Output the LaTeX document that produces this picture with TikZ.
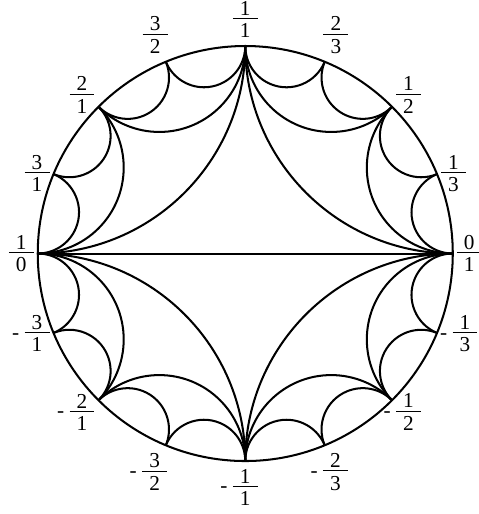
\documentclass[tikz,border=0pt]{standalone}
\usepackage{fontspec}
\setmainfont{Liberation Serif}
\usetikzlibrary{calc}
\newcommand{\fr}[2]{$\vcenter{\hbox to 12.3pt{\hss#1\hss}\kern1.5pt\hrule height 0.5pt\kern2.2pt\hbox to 12.3pt{\hss#2\hss}}$}
\newcommand{\negmark}{\llap{-\ }}
\def\diskR{3.6}

\begin{document}
\begin{tikzpicture}[line width=1pt, line join=round,
    font=\fontsize{10.5}{12.5}\selectfont,
    lbl/.style={inner xsep=1.5pt, inner ysep=3.5pt}]
  \useasboundingbox (-4.255,-4.519) rectangle (4.038,4.398);
  \coordinate (o) at (0,0);
  \foreach \k in {0,...,15}
    \coordinate (p\k) at (\k*22.5:\diskR);
  \draw (o) circle[radius=\diskR];
  \draw (p8) -- (p0);
  \foreach \a/\b in {0/4,4/8,8/12,12/16,
                     0/2,2/4,4/6,6/8,8/10,10/12,12/14,14/16,
                     0/1,1/2,2/3,3/4,4/5,5/6,6/7,7/8,
                     8/9,9/10,10/11,11/12,12/13,13/14,14/15,15/16} {
    \pgfmathsetmacro\m{(\a+\b)*11.25}
    \pgfmathsetmacro\d{(\b-\a)*22.5}
    \draw (p\a) arc[start angle=\m+270-\d/2, end angle=\m+90+\d/2,
                    radius={\diskR*tan(\d/2)}];
  }
  \foreach \k/\an/\t in {0/180/\fr01, 1/182/\fr13, 2/216/\fr12, 3/247.5/\fr23,
                         4/270/\fr11, 5/292.5/\fr32, 6/324/\fr21, 7/358/\fr31,
                         8/0/\fr10, 9/2/\negmark\fr31, 10/36/\negmark\fr21,
                         11/67.5/\negmark\fr32, 12/90/\negmark\fr11,
                         13/112.5/\negmark\fr23, 14/144/\negmark\fr12}
    \node[lbl, anchor=\an] (l\k) at (p\k) {\t};
  \node[lbl, anchor=178, xshift=0.2cm] (l15) at (p15) {\negmark\fr13};
\end{tikzpicture}
\end{document}
